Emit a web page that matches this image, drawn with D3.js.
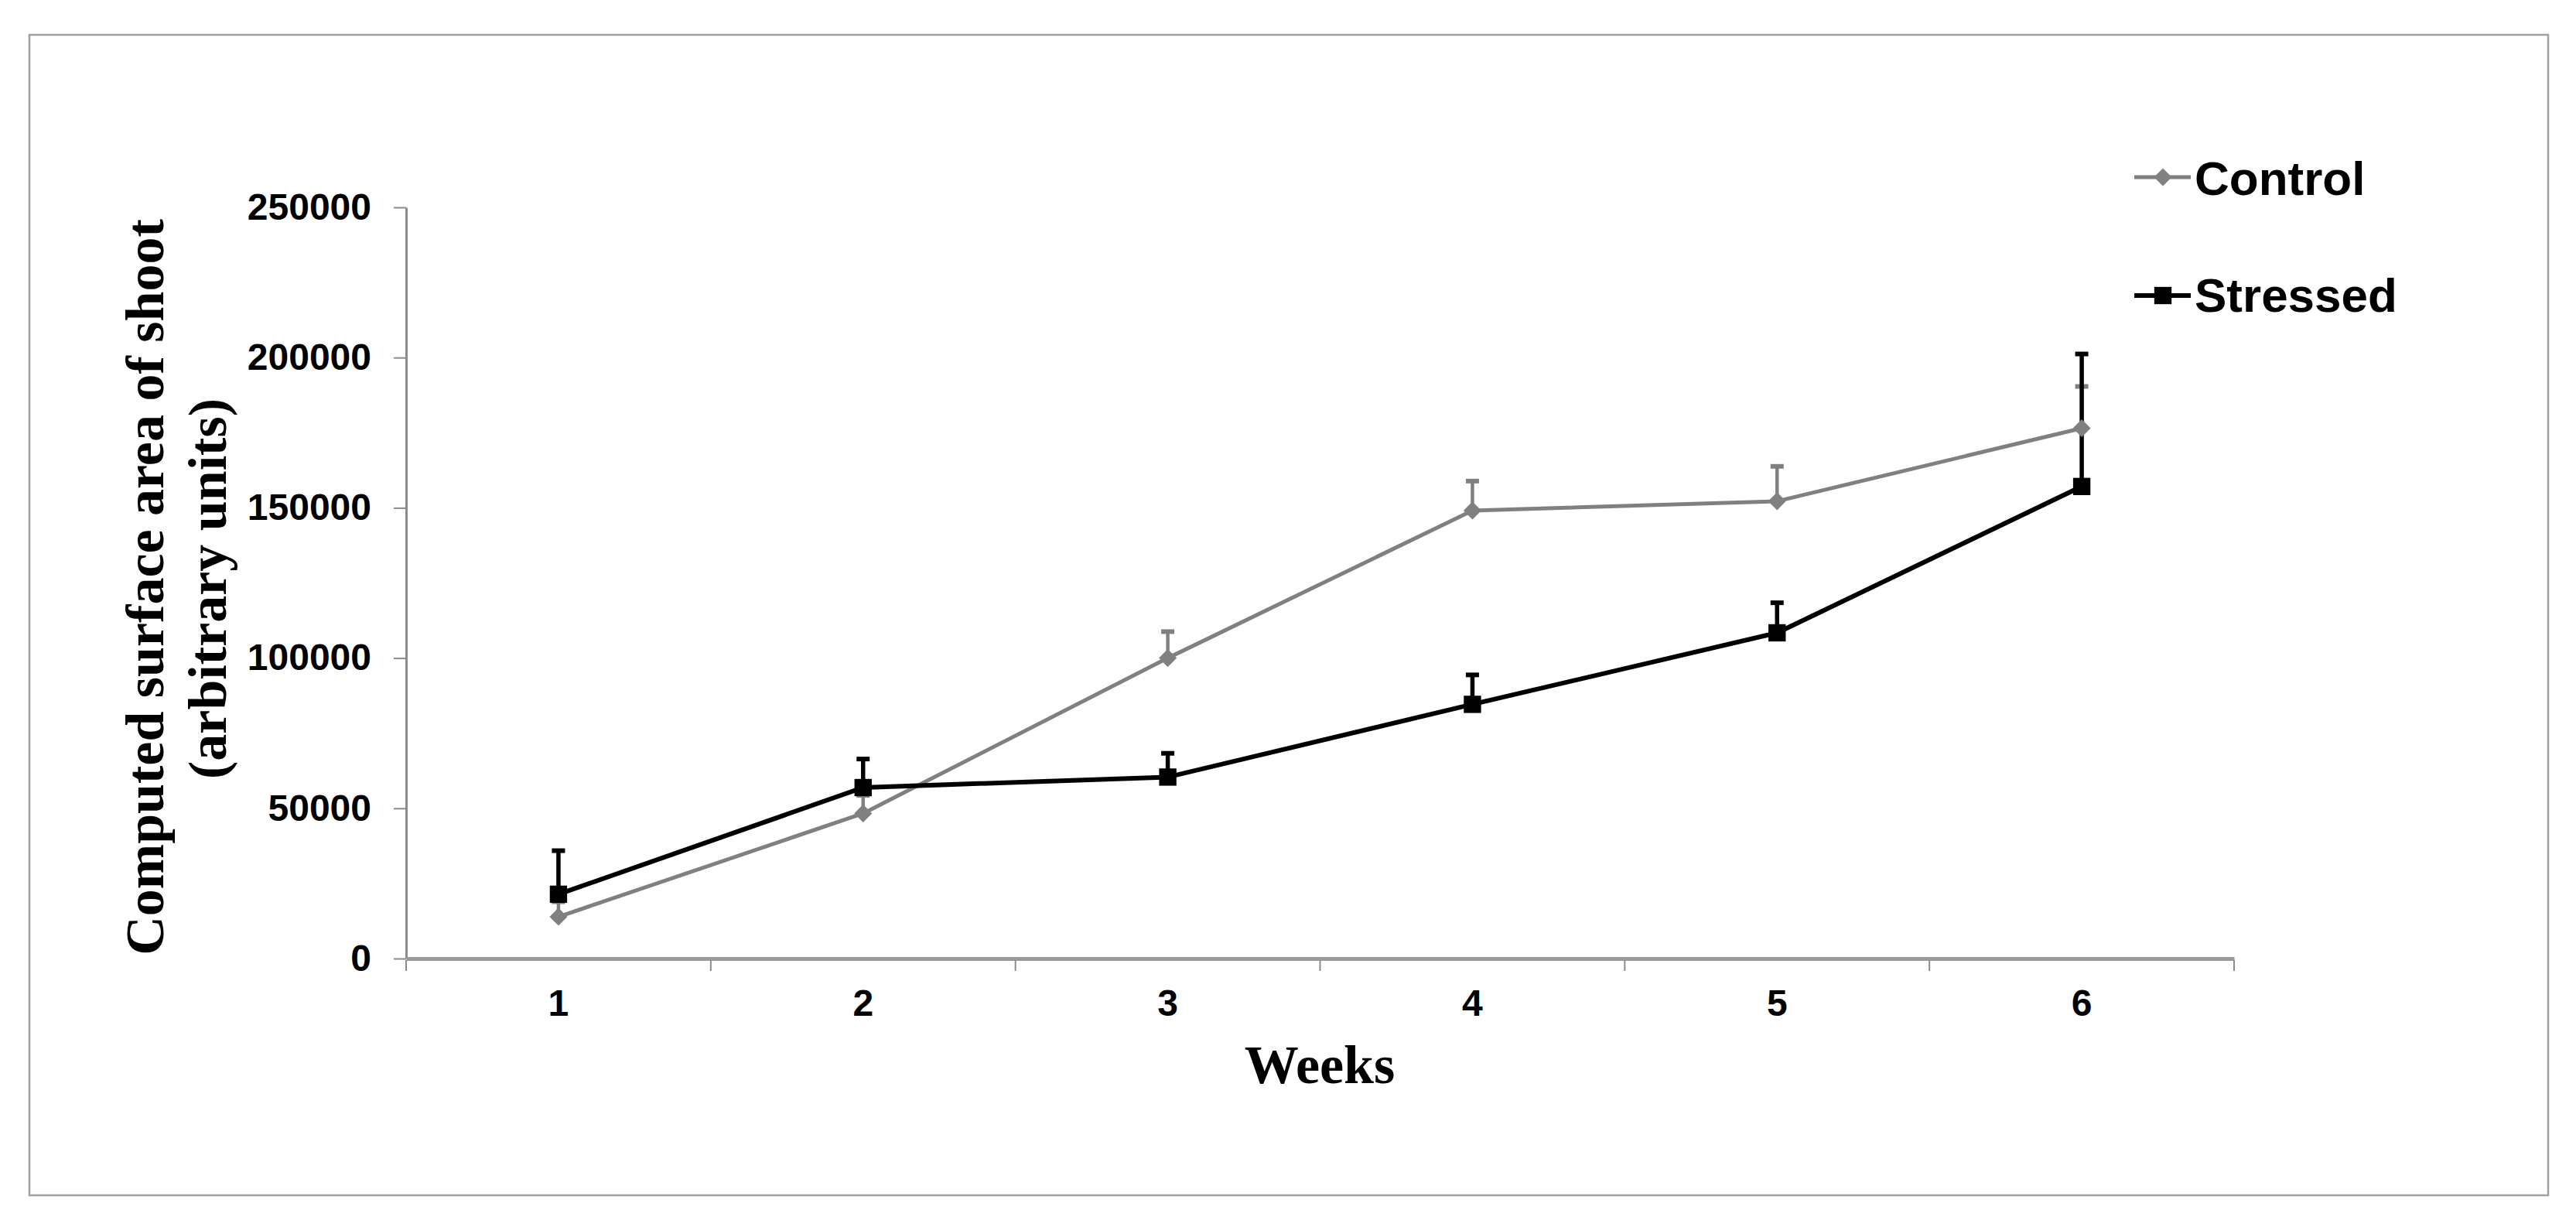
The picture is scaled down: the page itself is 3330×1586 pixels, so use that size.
<!DOCTYPE html>
<html>
<head>
<meta charset="utf-8">
<script src="https://cdn.jsdelivr.net/npm/d3@7"></script>
<style>
  html, body { margin: 0; padding: 0; background: #fff; }
  svg { display: block; }
</style>
</head>
<body>
<script>
// ---- Data ----
const weeks = ["1", "2", "3", "4", "5", "6"];
const controlValues = [13900, 48300, 100000, 149100, 152200, 176500];
const controlErrors = [5000, 6000, 8800, 9800, 11600, 13900];
const stressedValues = [21400, 56900, 60400, 84600, 108400, 157100];
const stressedErrors = [14500, 9500, 7900, 9800, 10000, 44100];
const yTicks = [0, 50000, 100000, 150000, 200000, 250000];
const seriesNames = ["Control", "Stressed"];

const W = 3330, H = 1586;
const svg = d3.select("body").append("svg").attr("width", W).attr("height", H);
svg.append("rect").attr("width", W).attr("height", H).attr("fill", "#fff");

// outer frame
svg.append("rect").attr("x", 38).attr("y", 45).attr("width", 3256).attr("height", 1500)
  .attr("fill", "none").attr("stroke", "#a0a0a0").attr("stroke-width", 2.5);

const x = d3.scaleBand().domain(weeks).range([525, 2888]);
const y = d3.scaleLinear().domain([0, 250000]).range([1239, 268]);
const cx = d => x(d) + x.bandwidth() / 2;

const sans = "'Liberation Sans', Arial, sans-serif";
const serif = "'Liberation Serif', 'Times New Roman', serif";

// Y axis
const yAxis = svg.append("g").attr("transform", "translate(525,0)")
  .call(d3.axisLeft(y).tickValues(yTicks).tickFormat(d3.format("d")).tickSize(16).tickSizeOuter(0).tickPadding(29));
yAxis.select(".domain").attr("stroke", "#8c8c8c").attr("stroke-width", 3);
yAxis.selectAll(".tick line").attr("stroke", "#8c8c8c").attr("stroke-width", 2);
yAxis.selectAll(".tick text").attr("font-family", sans).attr("font-weight", "bold")
  .attr("font-size", 48).attr("fill", "#000");

// X axis
const xAxis = svg.append("g").attr("transform", "translate(0,1239)")
  .call(d3.axisBottom(x).tickSize(0).tickSizeOuter(0).tickPadding(40));
xAxis.select(".domain").attr("stroke", "#9a9a9a").attr("stroke-width", 5);
xAxis.selectAll(".tick text").attr("font-family", sans).attr("font-weight", "bold")
  .attr("font-size", 48).attr("fill", "#000");
// boundary tick marks
const boundaries = weeks.map(w => x(w)).concat([x.range()[1]]);
xAxis.selectAll(".bt").data(boundaries).enter().append("line")
  .attr("x1", d => d).attr("x2", d => d).attr("y1", 2).attr("y2", 16)
  .attr("stroke", "#8c8c8c").attr("stroke-width", 2);

// Axis titles
svg.append("text").attr("x", 1706).attr("y", 1400).attr("text-anchor", "middle")
  .attr("font-family", serif).attr("font-weight", "bold").attr("font-size", 70)
  .text("Weeks");
svg.append("text").attr("transform", "translate(211,759) rotate(-90)").attr("text-anchor", "middle")
  .attr("font-family", serif).attr("font-weight", "bold").attr("font-size", 70)
  .text("Computed surface area of shoot");
svg.append("text").attr("transform", "translate(292,761) rotate(-90)").attr("text-anchor", "middle")
  .attr("font-family", serif).attr("font-weight", "bold").attr("font-size", 70)
  .text("(arbitrary units)");

const series = [
  { name: seriesNames[0], values: controlValues, errors: controlErrors, color: "#808080", lw: 5, ew: 4.5, cap: 17, marker: "diamond" },
  { name: seriesNames[1], values: stressedValues, errors: stressedErrors, color: "#000000", lw: 6, ew: 5.5, cap: 17, marker: "square" }
];

const plot = svg.append("g");

// error bars (upper)
series.forEach(s => {
  const g = plot.append("g");
  const pts = weeks.map((w, i) => ({ w, v: s.values[i], e: s.errors[i] }));
  g.selectAll("line.v").data(pts).enter().append("line")
    .attr("x1", d => cx(d.w)).attr("x2", d => cx(d.w))
    .attr("y1", d => y(d.v)).attr("y2", d => y(d.v + d.e))
    .attr("stroke", s.color).attr("stroke-width", s.ew);
  g.selectAll("line.c").data(pts).enter().append("line")
    .attr("x1", d => cx(d.w) - s.cap / 2).attr("x2", d => cx(d.w) + s.cap / 2)
    .attr("y1", d => y(d.v + d.e)).attr("y2", d => y(d.v + d.e))
    .attr("stroke", s.color).attr("stroke-width", 6);
});

// lines
const line = d3.line().x(d => cx(d.w)).y(d => y(d.v));
series.forEach(s => {
  const pts = weeks.map((w, i) => ({ w, v: s.values[i] }));
  plot.append("path").datum(pts).attr("d", line)
    .attr("fill", "none").attr("stroke", s.color).attr("stroke-width", s.lw)
    .attr("stroke-linejoin", "round");
});

// markers
const diamond = d3.symbol().type(d3.symbolDiamond2).size(340);
const square = d3.symbol().type(d3.symbolSquare).size(500);
series.forEach(s => {
  const pts = weeks.map((w, i) => ({ w, v: s.values[i] }));
  plot.selectAll(null).data(pts).enter().append("path")
    .attr("transform", d => `translate(${cx(d.w)},${y(d.v)})`)
    .attr("d", s.marker === "diamond" ? diamond() : square())
    .attr("fill", s.color);
});

// legend
const legY = [229, 382];
const leg = svg.append("g");
series.forEach((s, i) => {
  leg.append("line").attr("x1", 2759).attr("x2", 2832).attr("y1", legY[i]).attr("y2", legY[i])
    .attr("stroke", s.color).attr("stroke-width", s.lw);
  leg.append("path").attr("transform", `translate(2796,${legY[i]})`)
    .attr("d", s.marker === "diamond" ? diamond() : square()).attr("fill", s.color);
  leg.append("text").attr("x", 2837).attr("y", legY[i] + (i === 0 ? 23 : 21))
    .attr("font-family", sans).attr("font-weight", "bold").attr("font-size", 62)
    .attr("fill", "#000").text(s.name);
});
</script>
</body>
</html>
